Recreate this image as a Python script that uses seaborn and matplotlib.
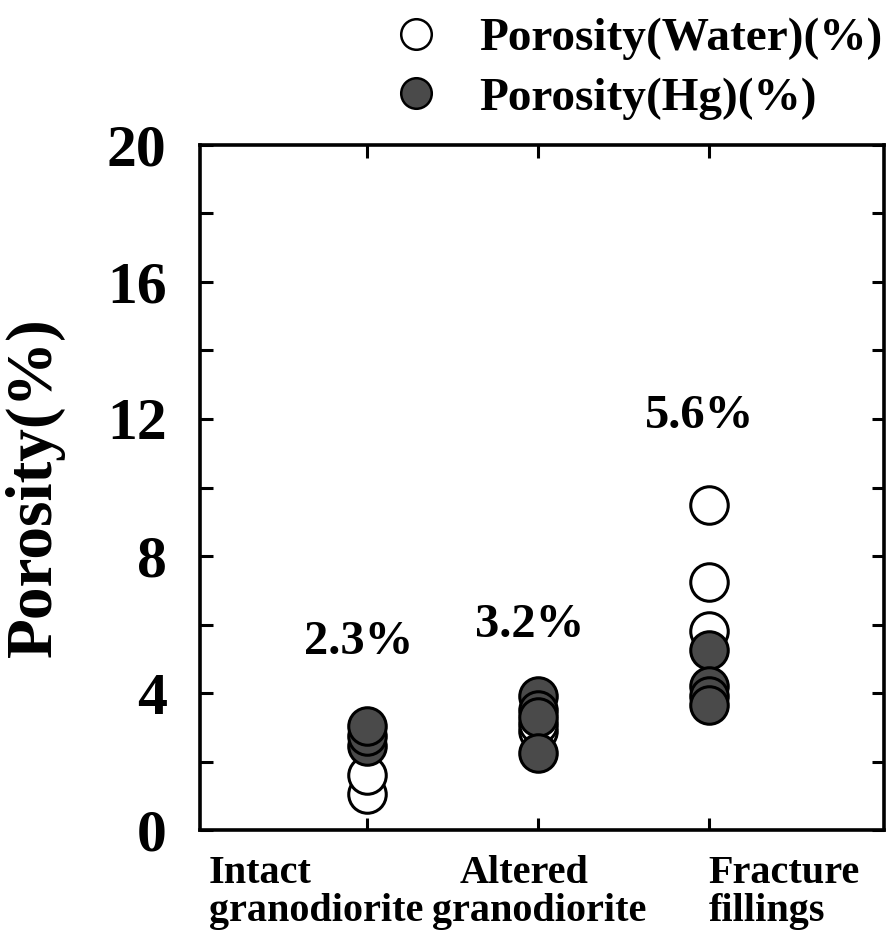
import matplotlib
matplotlib.use("Agg")
import matplotlib.pyplot as plt
import matplotlib.transforms as mtransforms
from matplotlib.lines import Line2D
import seaborn as sns
import pandas as pd

# ---- data ----
categories = ["Intact granodiorite", "Altered granodiorite", "Fracture fillings"]
water_intact = [1.05, 1.6]
water_altered = [2.9, 3.1]
water_fracture = [9.5, 7.25, 5.8]
hg_intact = [2.45, 2.75, 3.05]
hg_altered = [3.9, 3.5, 3.3, 2.25]
hg_fracture = [5.25, 4.2, 3.9, 3.65]
mean_labels = ["2.3%", "3.2%", "5.6%"]
mean_label_y = [5.5, 6.0, 12.1]
cat_label_lines = [("Intact", "granodiorite"), ("Altered", "granodiorite"), ("Fracture", "fillings")]
yticks = [0, 4, 8, 12, 16, 20]

water_df = pd.DataFrame({
    "cat": [categories[0]] * len(water_intact) + [categories[1]] * len(water_altered) + [categories[2]] * len(water_fracture),
    "val": water_intact + water_altered + water_fracture})
hg_df = pd.DataFrame({
    "cat": [categories[0]] * len(hg_intact) + [categories[1]] * len(hg_altered) + [categories[2]] * len(hg_fracture),
    "val": hg_intact + hg_altered + hg_fracture})

sns.set_theme(style="white")
plt.rcParams["font.family"] = ["Liberation Serif", "DejaVu Serif"]
plt.rcParams["font.weight"] = "bold"
plt.rcParams["text.color"] = "black"
plt.rcParams["axes.labelcolor"] = "black"
plt.rcParams["xtick.color"] = "black"
plt.rcParams["ytick.color"] = "black"

fig = plt.figure(figsize=(8.95, 9.34), dpi=100)
ax = fig.add_axes([0.2235, 0.1113, 0.988 - 0.2235, 0.8448 - 0.1113])

sns.stripplot(data=water_df, x="cat", y="val", order=categories, jitter=False,
              color="white", edgecolor="black", linewidth=2.2, size=27, ax=ax, zorder=3)
sns.stripplot(data=hg_df, x="cat", y="val", order=categories, jitter=False,
              color="#4a4a4a", edgecolor="black", linewidth=2.2, size=27, ax=ax, zorder=4)

ax.set_xlim(-0.98, 3.03)
ax.set_ylim(0, 20)
ax.set_yticks(yticks)
ax.set_yticks(range(0, 21, 2), minor=True)
ax.set_yticklabels([str(t) for t in yticks], fontsize=43, fontweight="bold")
ax.set_xticks(range(len(categories)))
ax.set_xticklabels([""] * len(categories))
ax.tick_params(axis="y", which="both", direction="in", length=9, width=2.2,
               right=True, left=True, pad=24, colors="black")
ax.tick_params(axis="x", which="both", direction="in", length=9, width=2.2,
               top=True, bottom=True, colors="black")
ax.set_xlabel("")
ax.set_ylabel("Porosity(%)", fontsize=47, fontweight="bold", labelpad=30)
for s in ax.spines.values():
    s.set_linewidth(2.6)
    s.set_color("black")

# mean annotations
for i, (lab, y) in enumerate(zip(mean_labels, mean_label_y)):
    ax.text(i - 0.05, y, lab, fontsize=35, fontweight="bold", ha="center", va="center")

# category labels (two lines, left aligned as in the original)
trans = mtransforms.blended_transform_factory(ax.transData, ax.transAxes)
line1_x = [-0.93, 0.54, 2.0]
line2_x = [-0.93, 0.38, 2.0]
for i, (l1, l2) in enumerate(cat_label_lines):
    ax.text(line1_x[i], -0.063, l1, fontsize=29, fontweight="bold", ha="left", va="center", transform=trans)
    ax.text(line2_x[i], -0.119, l2, fontsize=29, fontweight="bold", ha="left", va="center", transform=trans)

handles = [
    Line2D([], [], marker="o", linestyle="none", markersize=22, markerfacecolor="white",
           markeredgecolor="black", markeredgewidth=1.8),
    Line2D([], [], marker="o", linestyle="none", markersize=22, markerfacecolor="#4a4a4a",
           markeredgecolor="black", markeredgewidth=1.8),
]
fig.legend(handles, ["Porosity(Water)(%)", "Porosity(Hg)(%)"], loc="upper right",
           bbox_to_anchor=(1.018, 1.012), frameon=False, prop={"size": 34, "weight": "bold"},
           handletextpad=0.75, labelspacing=0.35, handlelength=1.2, borderaxespad=0.2)

fig.savefig("out.png", dpi=100)
